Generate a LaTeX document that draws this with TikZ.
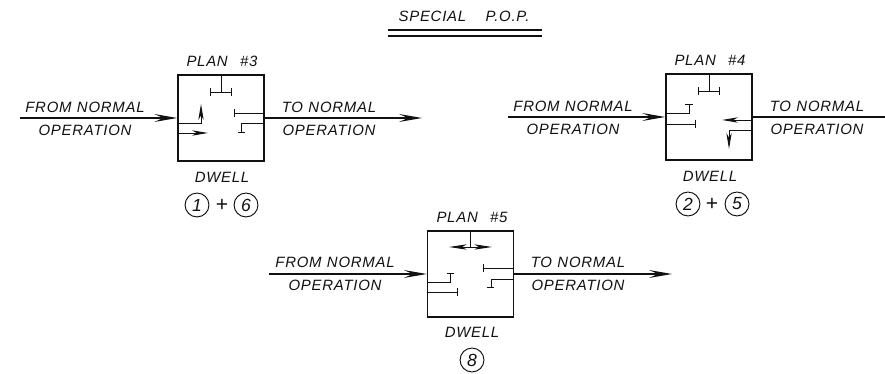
\documentclass[tikz,border=0pt]{standalone}
\usepackage{fontspec}
\usetikzlibrary{arrows.meta, positioning, calc}
\newfontfamily\cadfont[LetterSpace=5,WordSpace=1.1]{Liberation Sans}
\definecolor{inkblk}{HTML}{111111}
\tikzset{
  lbl/.style={text=inkblk, font=\cadfont\itshape\fontsize{8.5}{8.5}\selectfont, inner sep=0pt},
  planbox/.style={draw=inkblk, line width=0.85pt, minimum width=49pt, minimum height=49pt, inner sep=0pt},
  phasecirc/.style={draw=inkblk, line width=0.55pt, circle, minimum size=13.6pt, inner sep=0pt, text=inkblk, font=\cadfont\itshape\fontsize{10}{10}\selectfont},
  plusmark/.style={text=inkblk, font=\cadfont\fontsize{12}{12}\selectfont, inner sep=0pt},
  flow/.style={inkblk, line width=0.75pt, -{Stealth[length=13pt, width=4.5pt, inset=5pt]}},
  plainflow/.style={inkblk, line width=0.75pt},
  sig/.style={inkblk, line width=0.55pt, -{Stealth[length=9pt, width=3pt, inset=2.5pt]}},
  sigline/.style={inkblk, line width=0.55pt},
  sigstop/.style={inkblk, line width=0.55pt, -{Bar[width=5pt, line width=0.55pt]}},
  sigboth/.style={inkblk, line width=0.55pt, {Stealth[length=10pt, width=3pt, inset=2.5pt]}-{Stealth[length=10pt, width=3pt, inset=2.5pt]}}
}

\begin{document}
\begin{tikzpicture}[x=0.02cm, y=-0.02cm]

\useasboundingbox (0,0) rectangle (885,374);

% Title
\node[lbl] (title) at (464,16) {SPECIAL\hspace{11pt}P.O.P.};
\coordinate (ruleL) at (388,30);
\coordinate (ruleR) at (542,30);
\draw[inkblk, line width=0.75pt] (ruleL) -- (ruleR);
\draw[inkblk, line width=0.75pt] ($(ruleL)+(0,6)$) -- ($(ruleR)+(0,6)$);

% Plan 3
\node[planbox] (planA) at (221,118) {};
\node[lbl] (planAtop) at (222,61) {PLAN\hspace{7pt}\#3};
\node[lbl] (dwellA) at (222,177) {DWELL};
\node[phasecirc] (ringone) at (197,205) {1};
\node[plusmark] (plusA) at (222,205) {+};
\node[phasecirc] (ringsix) at (246,205) {6};
\node[lbl] (fromA) at (85,107) {FROM NORMAL};
\node[lbl] (fromAb) at (85,130) {OPERATION};
\node[lbl] (toA) at (329,107) {TO NORMAL};
\node[lbl] (toAb) at (329,130) {OPERATION};
\coordinate (inA) at (20,118);
\coordinate (outA) at (422,118);
\draw[flow] (inA) -- (planA.west);
\draw[flow] (planA.east) -- (outA);

\draw[sigline] (planA.north) -- (221,92);
\draw[sigstop] (221,92) -- (210,92);
\draw[sigstop] (221,92) -- (232,92);
\draw[sig] (178,123) -| (201,104);
\draw[sig] (178,133) -- (208,133);
\draw[sigstop] (264,113) -- (234,113);
\draw[sigline] (264,123) -| (241,132);
\draw[sigline] (238,132) -- (245,132);

% Plan 4
\node[planbox] (planB) at (709,117) {};
\node[lbl] (planBtop) at (710,60) {PLAN\hspace{7pt}\#4};
\node[lbl] (dwellB) at (710,176) {DWELL};
\node[phasecirc] (ringtwo) at (688,204) {2};
\node[plusmark] (plusB) at (712,204) {+};
\node[phasecirc] (ringfive) at (737,204) {5};
\node[lbl] (fromB) at (573,106) {FROM NORMAL};
\node[lbl] (fromBb) at (573,129) {OPERATION};
\node[lbl] (toB) at (817,106) {TO NORMAL};
\node[lbl] (toBb) at (817,129) {OPERATION};
\coordinate (inB) at (508,117);
\coordinate (outB) at (885,117);
\draw[flow] (inB) -- (planB.west);
\draw[plainflow] (planB.east) -- (outB);

\draw[sigline] (planB.north) -- (709,91);
\draw[sigstop] (709,91) -- (698,91);
\draw[sigstop] (709,91) -- (720,91);
\draw[sigline] (666,113) -| (689,104);
\draw[sigline] (685,104) -- (693,104);
\draw[sigstop] (666,124) -- (696,124);
\draw[sig] (752,120) -- (722,120);
\draw[sig] (752,130) -| (729,149);

% Plan 5
\node[planbox] (planC) at (470.5,274) {};
\node[lbl] (planCtop) at (472,217) {PLAN\hspace{7pt}\#5};
\node[lbl] (dwellC) at (472,332) {DWELL};
\node[phasecirc] (ringeight) at (472,360) {8};
\node[lbl] (fromC) at (335,262) {FROM NORMAL};
\node[lbl] (fromCb) at (335,285) {OPERATION};
\node[lbl] (toC) at (578,262) {TO NORMAL};
\node[lbl] (toCb) at (578,285) {OPERATION};
\coordinate (inC) at (269,274);
\coordinate (outC) at (672,274);
\draw[flow] (inC) -- (planC.west);
\draw[flow] (planC.east) -- (outC);

\draw[sigline] (planC.north) -- (470.5,247);
\draw[sigboth] (449,247) -- (492,247);
\draw[sigline] (427,282) -| (450,273);
\draw[sigline] (447,273) -- (454,273);
\draw[sigstop] (427,292) -- (458,292);
\draw[sigstop] (514,268) -- (483,268);
\draw[sigline] (514,279) -| (491,287);
\draw[sigline] (487,287) -- (494,287);

\end{tikzpicture}
\end{document}
